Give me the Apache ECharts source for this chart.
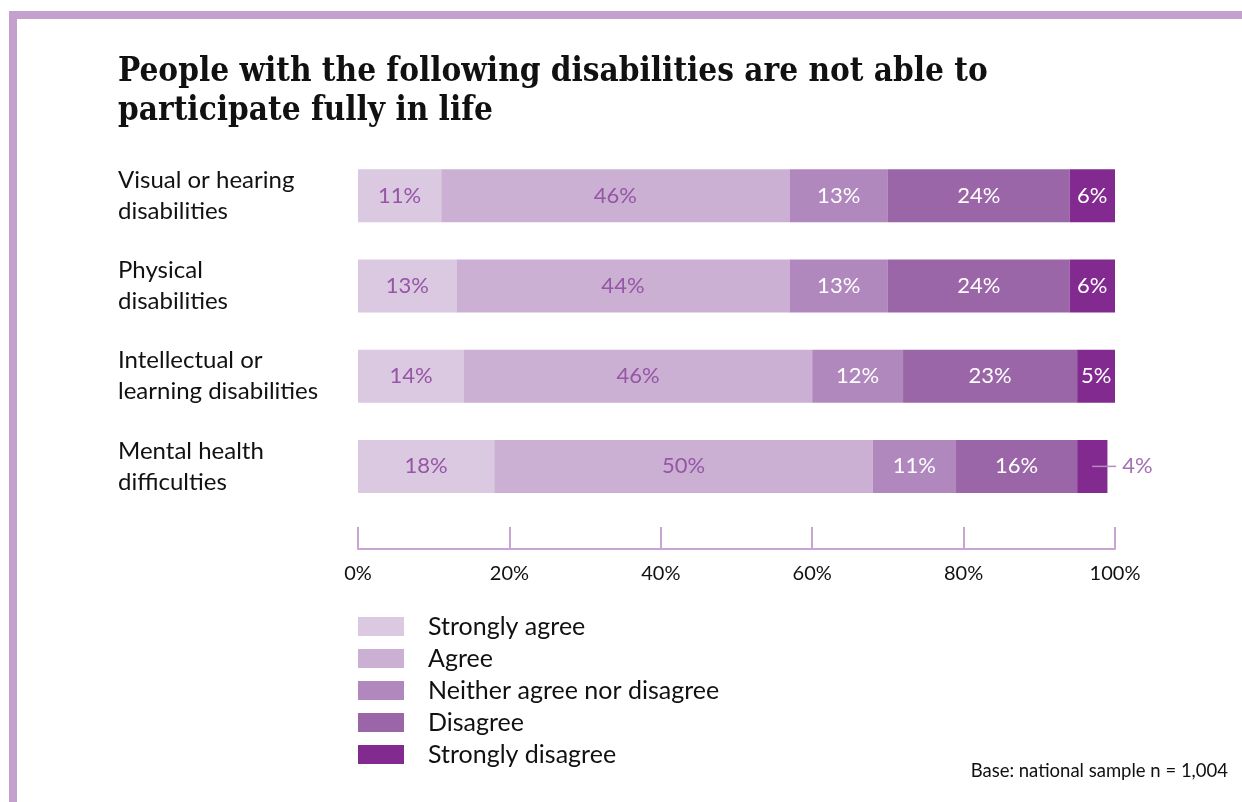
<!DOCTYPE html>
<html>
<head>
<meta charset="utf-8">
<title>Participation in life by disability</title>
<script src="https://cdn.jsdelivr.net/npm/echarts@6/dist/echarts.min.js"></script>
<style>
  html, body { margin: 0; padding: 0; background: #ffffff; }
  #chart { width: 1242px; height: 802px; }
</style>
</head>
<body>
<div id="chart"></div>
<script>
// Survey categories (top to bottom)
const categories = [
  'Visual or hearing\ndisabilities',
  'Physical\ndisabilities',
  'Intellectual or\nlearning disabilities',
  'Mental health\ndifficulties'
];

// Response shares, percent of respondents
const stronglyAgree    = [11, 13, 14, 18];
const agree            = [46, 44, 46, 50];
const neither          = [13, 13, 12, 11];
const disagree         = [24, 24, 23, 16];
const stronglyDisagree = [6, 6, 5, 4];

const responseNames = ['Strongly agree', 'Agree', 'Neither agree nor disagree', 'Disagree', 'Strongly disagree'];
const xTicks = [0, 20, 40, 60, 80, 100];

const colors = ['#DBC8E1', '#CBB0D4', '#B088BD', '#9B66A8', '#822A8F'];
const darkLabel = '#9656A6';
const FONT = 'Lato, "Open Sans", sans-serif';

const seriesValues = [stronglyAgree, agree, neither, disagree, stronglyDisagree];

function makeSeries(idx) {
  const values = seriesValues[idx];
  const light = idx < 2;
  return {
    name: responseNames[idx],
    type: 'bar',
    stack: 'total',
    barWidth: 53,
    itemStyle: { color: colors[idx] },
    emphasis: { disabled: true },
    label: {
      show: true,
      position: 'inside',
      formatter: '{c}%',
      fontFamily: FONT,
      fontSize: 22,
      color: light ? darkLabel : '#ffffff'
    },
    data: values.map(function (v) {
      // Narrow segments get their label outside with a short leader line
      if (v < 5) {
        return {
          value: v,
          label: {
            position: 'insideLeft',
            distance: 15,
            formatter: '{l|}{v|' + v + '%}',
            rich: {
              l: { width: 24, height: 1.5, backgroundColor: '#B58DC2' },
              v: { fontFamily: FONT, fontSize: 22, color: '#A46FB4', padding: [0, 0, 0, 6] }
            }
          }
        };
      }
      return v;
    })
  };
}

const chart = echarts.init(document.getElementById('chart'), null, { renderer: 'canvas' });

chart.setOption({
  animation: false,
  backgroundColor: '#ffffff',
  title: {
    text: 'People with the following disabilities are not able to\nparticipate fully in life',
    left: 118,
    top: 53,
    padding: 0,
    textStyle: {
      fontFamily: '"DejaVu Serif Condensed", "DejaVu Serif", serif',
      fontWeight: 'bold',
      fontSize: 33,
      lineHeight: 39,
      color: '#111111'
    }
  },
  legend: {
    orient: 'vertical',
    left: 358,
    top: 614,
    padding: 0,
    itemWidth: 46,
    itemHeight: 19,
    itemGap: 7,
    icon: 'rect',
    selectedMode: false,
    data: responseNames,
    textStyle: {
      fontFamily: FONT,
      fontSize: 25,
      lineHeight: 22,
      color: '#111111',
      padding: [0, 0, 0, 19]
    }
  },
  grid: {
    left: 358,
    right: 127,
    top: 150.5,
    height: 361,
    containLabel: false
  },
  xAxis: {
    type: 'value',
    min: 0,
    max: 100,
    interval: 20,
    offset: 37.5,
    axisLine: { show: true, lineStyle: { color: '#C9A5D3', width: 2 } },
    axisTick: { show: true, inside: true, length: 22, lineStyle: { color: '#C9A5D3', width: 2 } },
    splitLine: { show: false },
    axisLabel: {
      margin: 15,
      fontFamily: FONT,
      fontSize: 20,
      color: '#111111',
      formatter: function (v) { return xTicks.indexOf(v) >= 0 ? v + '%' : ''; }
    }
  },
  yAxis: {
    type: 'category',
    inverse: true,
    data: categories,
    axisLine: { show: false },
    axisTick: { show: false },
    axisLabel: {
      align: 'left',
      margin: 240,
      fontFamily: FONT,
      fontSize: 24,
      lineHeight: 31,
      color: '#111111'
    }
  },
  series: [0, 1, 2, 3, 4].map(makeSeries),
  graphic: [
    // Frame: top and left rules
    { type: 'rect', left: 10, top: 11, shape: { width: 1232, height: 8 }, style: { fill: '#C4A0CC' }, silent: true },
    { type: 'rect', left: 9, top: 11, shape: { width: 8, height: 791 }, style: { fill: '#C4A0CC' }, silent: true },
    {
      type: 'text',
      right: 14,
      top: 762,
      style: {
        text: 'Base: national sample n = 1,004',
        fontFamily: FONT,
        fontSize: 18.5,
        fill: '#111111'
      }
    }
  ]
});
</script>
</body>
</html>
